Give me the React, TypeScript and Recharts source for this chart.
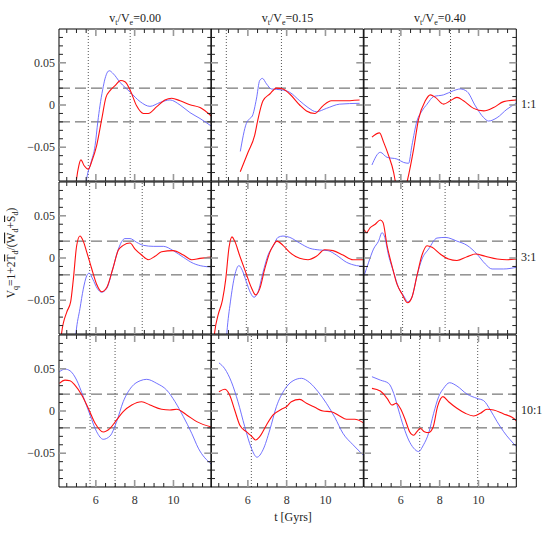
import React from 'react';
import { LineChart, Line, XAxis, YAxis, ReferenceLine } from 'recharts';

// ---------- data: [t (Gyr), V_q] ----------
const red_11_000: [number, number][] = [[4.95,-0.1],[5.01,-0.087],[5.12,-0.072],[5.23,-0.065],[5.4,-0.072],[5.61,-0.076],[5.8,-0.066],[6.04,-0.048],[6.3,-0.017],[6.52,0.009],[6.73,0.017],[6.99,0.023],[7.28,0.029],[7.5,0.0276],[7.78,0.017],[8.1,-0.001],[8.45,-0.01],[8.7,-0.01],[9.14,-0.002],[9.56,0.006],[9.91,0.008],[10.34,0.005],[10.85,0.0004],[11.37,-0.003],[11.95,-0.013]];
const blue_11_000: [number, number][] = [[5.45,-0.1],[5.53,-0.087],[5.75,-0.068],[5.96,-0.048],[6.1,-0.02],[6.21,-0.001],[6.35,0.018],[6.47,0.031],[6.6,0.039],[6.69,0.0406],[6.9,0.037],[7.24,0.027],[7.78,0.015],[8.28,0.004],[8.79,-0.0016],[9.31,0.003],[9.82,0.006],[10.34,0],[10.85,-0.009],[11.37,-0.016],[11.95,-0.025]];
const red_11_015: [number, number][] = [[5.61,-0.079],[6.01,-0.056],[6.35,-0.036],[6.52,-0.017],[6.78,0.005],[7.13,0.013],[7.47,0.02],[7.81,0.019],[8.16,0.013],[8.67,0],[9.02,-0.007],[9.45,-0.01],[9.87,-0.001],[10.3,0.005],[10.9,0.005],[11.76,0.006]];
const blue_11_015: [number, number][] = [[5.61,-0.055],[5.92,-0.022],[6.1,-0.016],[6.23,-0.013],[6.44,0.007],[6.61,0.029],[6.75,0.0315],[6.96,0.025],[7.21,0.019],[7.73,0.018],[8.16,0.015],[8.67,0.005],[9.1,-0.003],[9.53,-0.008],[10.05,-0.004],[10.73,0.001],[11.76,0.002]];
const red_11_040: [number, number][] = [[4.51,-0.038],[4.9,-0.033],[5.11,-0.044],[5.37,-0.06],[5.63,-0.08],[5.71,-0.09],[6.0,-0.115],[6.33,-0.09],[6.66,-0.052],[6.91,-0.017],[7.26,0.005],[7.52,0.012],[7.78,0.009],[8.2,0.001],[8.55,0.005],[8.89,0.009],[9.23,0.005],[9.75,-0.004],[10.27,-0.007],[10.78,-0.003],[11.3,0.004],[11.95,0.006]];
const blue_11_040: [number, number][] = [[4.51,-0.071],[4.94,-0.056],[5.29,-0.062],[5.8,-0.064],[6.14,-0.068],[6.4,-0.069],[6.57,-0.048],[6.83,-0.019],[7.09,-0.007],[7.35,0.001],[7.69,0.01],[8.2,0.012],[8.72,0.017],[9.06,0.019],[9.41,0.016],[9.84,-0.001],[10.27,-0.015],[10.52,-0.019],[10.96,-0.015],[11.47,-0.005],[11.95,0.002]];

const red_31_000: [number, number][] = [[4.18,-0.1],[4.24,-0.088],[4.5,-0.064],[4.7,-0.052],[4.84,-0.025],[5.01,0.0145],[5.18,0.026],[5.35,0.02],[5.53,0.007],[5.79,-0.013],[6.04,-0.031],[6.3,-0.04],[6.56,-0.035],[6.87,-0.013],[7.16,0.0095],[7.41,0.015],[7.76,0.0177],[8.02,0.0106],[8.36,0.0035],[8.7,-0.002],[9.05,0.002],[9.39,0.0074],[9.99,0.0087],[10.51,0.0035],[10.94,-0.002],[11.37,-0.0004],[11.95,0.001]];
const blue_31_000: [number, number][] = [[4.93,-0.1],[4.98,-0.088],[5.18,-0.06],[5.35,-0.037],[5.53,-0.021],[5.65,-0.018],[5.84,-0.025],[6.07,-0.036],[6.3,-0.0405],[6.56,-0.036],[6.87,-0.013],[7.16,0.0106],[7.5,0.023],[7.76,0.023],[8.1,0.0186],[8.45,0.015],[8.96,0.0138],[9.48,0.0138],[9.99,0.0087],[10.51,0.0008],[11.02,-0.0063],[11.54,-0.0098],[11.95,-0.0106]];
const red_31_015: [number, number][] = [[4.24,-0.1],[4.29,-0.088],[4.46,-0.068],[4.69,-0.05],[4.86,-0.025],[5.03,0.0126],[5.18,0.025],[5.32,0.02],[5.58,0.0027],[5.89,-0.017],[6.18,-0.035],[6.4,-0.0437],[6.61,-0.0366],[6.87,-0.013],[7.13,0.0067],[7.3,0.0145],[7.5,0.02],[7.81,0.015],[8.16,0.0067],[8.67,-0.0004],[9.1,-0.002],[9.53,0.002],[9.96,0.0098],[10.39,0.0087],[10.9,0.0035],[11.42,-0.002],[11.94,-0.002]];
const blue_31_015: [number, number][] = [[4.88,-0.1],[4.92,-0.088],[5.1,-0.052],[5.32,-0.021],[5.54,-0.009],[5.72,-0.015],[5.92,-0.028],[6.13,-0.041],[6.32,-0.0465],[6.52,-0.0405],[6.78,-0.017],[7.04,0.0035],[7.33,0.015],[7.55,0.0244],[7.81,0.026],[8.16,0.0244],[8.67,0.0177],[9.19,0.0115],[9.7,0.0095],[10.13,0.0087],[10.56,0.0035],[11.08,-0.005],[11.6,-0.009],[11.94,-0.0098]];
const red_31_040: [number, number][] = [[4.12,0.0335],[4.22,0.03],[4.42,0.036],[4.68,0.04],[4.94,0.045],[5.08,0.042],[5.29,0.0145],[5.54,-0.009],[5.8,-0.031],[6.06,-0.0426],[6.35,-0.053],[6.57,-0.0465],[6.83,-0.021],[7.09,0.0035],[7.35,0.0145],[7.61,0.0126],[8.03,0.0047],[8.46,-0.0012],[8.89,-0.003],[9.41,0.0015],[9.84,0.0047],[10.35,0.002],[10.96,-0.0012],[11.47,-0.002],[11.95,-0.0012]];
const blue_31_040: [number, number][] = [[4.12,-0.02],[4.34,-0.005],[4.59,0.0106],[4.85,0.02],[5.03,0.03],[5.15,0.026],[5.37,0.0027],[5.63,-0.017],[5.88,-0.035],[6.14,-0.0446],[6.37,-0.052],[6.57,-0.0465],[6.83,-0.021],[7.09,-0.0012],[7.43,0.0106],[7.86,0.0236],[8.29,0.0244],[8.89,0.02],[9.41,0.015],[9.92,0.0047],[10.35,-0.007],[10.7,-0.013],[11.3,-0.013],[11.95,-0.011]];

const red_101_000: [number, number][] = [[4.12,0.0327],[4.41,0.0366],[4.67,0.0358],[4.92,0.0307],[5.27,0.019],[5.61,0.0032],[5.96,-0.0145],[6.38,-0.0248],[6.73,-0.0205],[7.07,-0.0106],[7.41,-0.0008],[7.85,0.0071],[8.36,0.011],[8.79,0.0071],[9.39,0.002],[9.82,0.0012],[10.17,0.002],[10.68,-0.0047],[11.2,-0.0126],[11.95,-0.019]];
const blue_101_000: [number, number][] = [[4.12,0.0465],[4.41,0.0496],[4.67,0.0476],[5.01,0.0366],[5.35,0.017],[5.7,-0.0047],[6.04,-0.0245],[6.38,-0.0335],[6.73,-0.0296],[7.07,-0.0126],[7.41,0.011],[7.85,0.0287],[8.28,0.0358],[8.62,0.0375],[9.14,0.0327],[9.65,0.0248],[10.08,0.011],[10.51,-0.0067],[10.94,-0.0264],[11.28,-0.044],[11.95,-0.063]];
const red_101_015: [number, number][] = [[4.51,0.0228],[4.81,0.0257],[5.06,0.019],[5.32,0.0012],[5.58,-0.0165],[5.92,-0.0245],[6.18,-0.0296],[6.4,-0.0343],[6.61,-0.0304],[6.96,-0.0165],[7.3,-0.0047],[7.73,0.002],[7.99,0.0051],[8.24,0.011],[8.67,0.0138],[9.02,0.0091],[9.45,0.0044],[9.87,0],[10.3,-0.0008],[10.73,-0.0059],[11.08,-0.0098],[11.51,-0.0098],[11.94,-0.0138]];
const blue_101_015: [number, number][] = [[4.51,0.057],[4.81,0.05],[5.15,0.0346],[5.49,0.011],[5.84,-0.0186],[6.18,-0.044],[6.47,-0.0547],[6.78,-0.046],[7.13,-0.0225],[7.47,0.0051],[7.9,0.0257],[8.33,0.0358],[8.76,0.0387],[9.19,0.0335],[9.62,0.0228],[10.05,0.0091],[10.48,-0.0075],[10.9,-0.0264],[11.42,-0.04],[11.94,-0.052]];
const red_101_040: [number, number][] = [[4.51,0.0268],[4.94,0.0236],[5.29,0.015],[5.54,0.0071],[5.76,0.0091],[5.97,0.0032],[6.23,-0.0106],[6.45,-0.0245],[6.66,-0.0287],[6.83,-0.0245],[7.0,-0.0205],[7.21,-0.0245],[7.43,-0.0256],[7.66,-0.0193],[7.89,0.0051],[8.17,0.017],[8.46,0.011],[8.89,0.0032],[9.32,-0.0027],[9.75,-0.0059],[10.1,-0.0027],[10.44,0.002],[10.78,0.0012],[11.3,-0.0035],[11.73,-0.0075],[11.95,-0.0115]];
const blue_101_040: [number, number][] = [[4.51,0.0406],[4.94,0.0366],[5.37,0.0327],[5.63,0.0209],[5.88,0.0012],[6.14,-0.0186],[6.4,-0.0343],[6.66,-0.044],[6.91,-0.048],[7.17,-0.04],[7.43,-0.0264],[7.69,-0.0027],[7.95,0.017],[8.2,0.0268],[8.51,0.0335],[8.89,0.0296],[9.41,0.02],[9.92,0.015],[10.27,0.0122],[10.61,0.0012],[10.96,-0.0126],[11.3,-0.0245],[11.95,-0.042]];

// vertical dotted markers per panel (t in Gyr)
const markers_11 = [[5.61, 7.77], [4.89, 7.73], [5.92, 8.56]];
const markers_31 = [[5.68, 8.39], [5.92, 7.97], [6.09, 8.28]];
const markers_101 = [[5.7, 6.99], [6.18, 7.99], [6.97, 9.96]];

const COLUMN_VALUES = ['0.00', '0.15', '0.40'];
const ROW_LABELS = ['1:1', '3:1', '10:1'];
const THRESHOLDS = [0.02, -0.02];

const X_TICKS = [4.5, 5, 5.5, 6, 6.5, 7, 7.5, 8, 8.5, 9, 9.5, 10, 10.5, 11, 11.5];
const X_MAJOR = [6, 8, 10];
const X_LABELS = ['6', '8', '10'];
const Y_TICKS = [-0.08, -0.07, -0.06, -0.05, -0.04, -0.03, -0.02, -0.01, 0, 0.01, 0.02, 0.03, 0.04, 0.05, 0.06, 0.07, 0.08];
const Y_MAJOR = [-0.05, 0, 0.05];
const Y_LABELS = ['\u22120.05', '0', '0.05'];

const X_DOMAIN: [number, number] = [4.1, 11.95];
const Y_DOMAIN: [number, number] = [-0.09, 0.09];

// ---------- layout ----------
const COL_X = [59, 211.3, 363.7];
const ROW_Y = [29.3, 182, 334.5];
const PW = 152.3;
const PH = 152;
const M = 50;

const RED = '#ff1010';
const BLUE = '#6262ff';
const FONT = '"Liberation Serif", "DejaVu Serif", serif';

const toPts = (a: [number, number][]) => a.map(([t, v]) => ({ t, v }));
const majorIndex = (v: number, list: number[]) => list.findIndex((m) => Math.abs(m - v) < 1e-9);

const RED_SERIES = [
  [red_11_000, red_11_015, red_11_040],
  [red_31_000, red_31_015, red_31_040],
  [red_101_000, red_101_015, red_101_040],
];
const BLUE_SERIES = [
  [blue_11_000, blue_11_015, blue_11_040],
  [blue_31_000, blue_31_015, blue_31_040],
  [blue_101_000, blue_101_015, blue_101_040],
];
const MARKERS = [markers_11, markers_31, markers_101];

const MINOR_STROKE = '#222';
const MAJOR_STROKE = '#999';

function BottomTick(props: any) {
  const { x, y, payload, showLabel } = props;
  const mi = majorIndex(payload.value, X_MAJOR);
  const major = mi >= 0;
  return (
    <g>
      <line x1={x} y1={y} x2={x} y2={y - (major ? 7 : 4)} stroke={major ? MAJOR_STROKE : MINOR_STROKE} strokeWidth={major ? 1.6 : 1} />
      {showLabel && major ? (
        <text x={x} y={y + 17} textAnchor="middle" fontFamily={FONT} fontSize={12} fill="#333">{X_LABELS[mi]}</text>
      ) : null}
    </g>
  );
}
function TopTick(props: any) {
  const { x, y, payload } = props;
  const major = majorIndex(payload.value, X_MAJOR) >= 0;
  return <line x1={x} y1={y} x2={x} y2={y + (major ? 7 : 4)} stroke={major ? MAJOR_STROKE : MINOR_STROKE} strokeWidth={major ? 1.6 : 1} />;
}
function LeftTick(props: any) {
  const { x, y, payload, showLabel } = props;
  const mi = majorIndex(payload.value, Y_MAJOR);
  const major = mi >= 0;
  return (
    <g>
      <line x1={x} y1={y} x2={x + (major ? 7 : 4)} y2={y} stroke={major ? MAJOR_STROKE : MINOR_STROKE} strokeWidth={major ? 1.6 : 1} />
      {showLabel && major ? (
        <text x={x - 4} y={y + 4} textAnchor="end" fontFamily={FONT} fontSize={12} fill="#333">{Y_LABELS[mi]}</text>
      ) : null}
    </g>
  );
}
function RightTick(props: any) {
  const { x, y, payload } = props;
  const major = majorIndex(payload.value, Y_MAJOR) >= 0;
  return <line x1={x} y1={y} x2={x - (major ? 7 : 4)} y2={y} stroke={major ? MAJOR_STROKE : MINOR_STROKE} strokeWidth={major ? 1.6 : 1} />;
}

function Panel({ row, col }: { row: number; col: number }) {
  const red = toPts(RED_SERIES[row][col]);
  const blue = toPts(BLUE_SERIES[row][col]);
  const marks = MARKERS[row][col];
  const AX = 1;
  return (
    <div style={{ position: 'absolute', left: COL_X[col] - M, top: ROW_Y[row] - M }}>
      <LineChart width={PW + 2 * M} height={PH + 2 * M} margin={{ top: M - AX, right: M - AX, bottom: M - AX, left: M - AX }}>
        <XAxis xAxisId="b" type="number" dataKey="t" domain={X_DOMAIN} allowDataOverflow ticks={X_TICKS} interval={0}
          orientation="bottom" height={AX} tickSize={0} tickMargin={0} tickLine={false}
          axisLine={{ stroke: '#000', strokeWidth: 1 }}
          tick={(p: any) => <BottomTick {...p} showLabel={row === 2} />} />
        <XAxis xAxisId="top" type="number" dataKey="t" domain={X_DOMAIN} allowDataOverflow ticks={X_TICKS} interval={0}
          orientation="top" height={AX} tickSize={0} tickMargin={0} tickLine={false}
          axisLine={{ stroke: '#000', strokeWidth: 1 }}
          tick={(p: any) => <TopTick {...p} />} />
        <YAxis yAxisId="l" type="number" domain={Y_DOMAIN} allowDataOverflow ticks={Y_TICKS} interval={0}
          orientation="left" width={AX} tickSize={0} tickMargin={0} tickLine={false}
          axisLine={{ stroke: '#000', strokeWidth: 1 }}
          tick={(p: any) => <LeftTick {...p} showLabel={col === 0} />} />
        <YAxis yAxisId="r" type="number" domain={Y_DOMAIN} allowDataOverflow ticks={Y_TICKS} interval={0}
          orientation="right" width={AX} tickSize={0} tickMargin={0} tickLine={false}
          axisLine={{ stroke: '#000', strokeWidth: 1 }}
          tick={(p: any) => <RightTick {...p} />} />
        {THRESHOLDS.map((v) => (
          <ReferenceLine key={'h' + v} xAxisId="b" yAxisId="l" y={v} stroke="#555" strokeWidth={1} strokeDasharray="11 5" />
        ))}
        {marks.map((t) => (
          <ReferenceLine key={'v' + t} xAxisId="b" yAxisId="l" x={t} stroke="#555" strokeWidth={1} strokeDasharray="1 2" />
        ))}
        <Line xAxisId="b" yAxisId="l" data={blue} dataKey="v" type="monotone" stroke={BLUE} strokeWidth={0.9} dot={false} isAnimationActive={false} />
        <Line xAxisId="b" yAxisId="l" data={red} dataKey="v" type="monotone" stroke={RED} strokeWidth={1.1} dot={false} isAnimationActive={false} />
      </LineChart>
    </div>
  );
}

export default function App() {
  const panels: React.ReactNode[] = [];
  for (let r = 0; r < 3; r++) for (let c = 0; c < 3; c++) panels.push(<Panel key={r + '-' + c} row={r} col={c} />);
  return (
    <div style={{ position: 'absolute', left: 0, top: 0, width: 545, height: 545, background: '#fff', overflow: 'hidden' }}>
      {panels}
      <svg width={545} height={545} style={{ position: 'absolute', left: 0, top: 0, pointerEvents: 'none' }}>
        {COLUMN_VALUES.map((v, i) => (
          <text key={v} x={COL_X[i] + PW / 2} y={22} textAnchor="middle" fontFamily={FONT} fontSize={12} fill="#222">
            v<tspan dy={3} fontSize={8}>t</tspan><tspan dy={-3}>/V</tspan><tspan dy={3} fontSize={8}>e</tspan><tspan dy={-3}>={v}</tspan>
          </text>
        ))}
        {ROW_LABELS.map((l, i) => (
          <text key={l} x={521} y={ROW_Y[i] + PH / 2 + 3} fontFamily={FONT} fontSize={12} fill="#222">{l}</text>
        ))}
        <text transform="translate(15,253) rotate(-90)" textAnchor="middle" fontFamily={FONT} fontSize={11.5} fill="#222">
          V<tspan dy={3} fontSize={8}>q</tspan><tspan dy={-3}>=1+2</tspan><tspan style={{ textDecoration: 'overline' }}>T</tspan><tspan dy={3} fontSize={8}>d</tspan><tspan dy={-3}>/(</tspan><tspan style={{ textDecoration: 'overline' }}>W</tspan><tspan dy={3} fontSize={8}>d</tspan><tspan dy={-3}>+</tspan><tspan style={{ textDecoration: 'overline' }}>S</tspan><tspan dy={3} fontSize={8}>d</tspan><tspan dy={-3}>)</tspan>
        </text>
        <text x={293} y={521} textAnchor="middle" fontFamily={FONT} fontSize={12} fill="#222">t  [Gyrs]</text>
      </svg>
    </div>
  );
}
